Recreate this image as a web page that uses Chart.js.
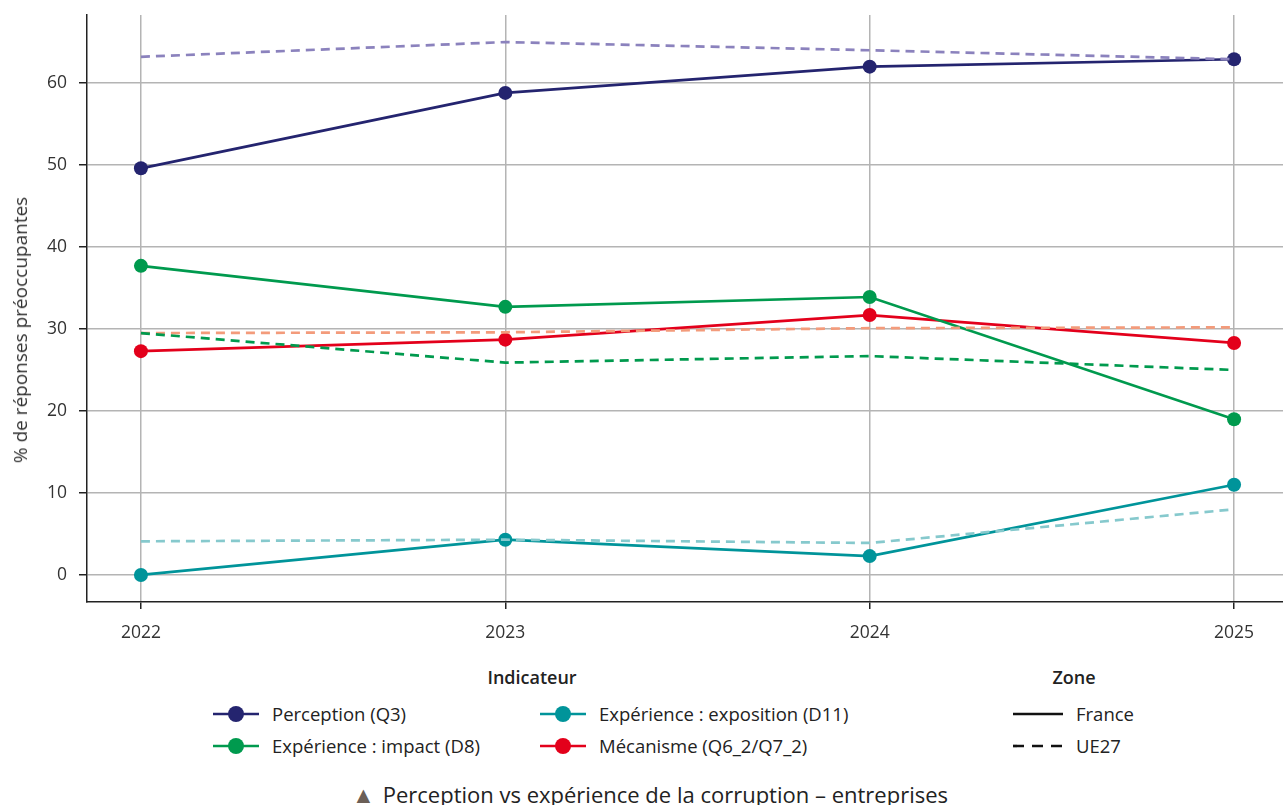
<!DOCTYPE html>
<html lang="fr">
<head>
<meta charset="utf-8">
<script src="https://cdn.jsdelivr.net/npm/chart.js@4"></script>
<style>
  html, body { margin: 0; background: #fff; overflow: hidden; font-family: "Open Sans", sans-serif; color: #222; }
  #wrap { position: relative; width: 1283px; height: 805px; overflow: hidden; }
  #chartBox { position: absolute; left: 0; top: 0; width: 1291px; height: 650px; }
  #yTitle { position: absolute; left: 20px; top: 330px; transform: translate(-50%, -50%) rotate(-90deg); font-size: 19px; color: #333; white-space: nowrap; line-height: 24px; }
  .lg { position: absolute; font-size: 18.5px; color: #222; white-space: nowrap; display: flex; align-items: center; line-height: 24px; }
  .lg svg { margin-right: 13px; }
  .lgTitle { position: absolute; font-size: 18px; font-weight: 600; transform: translateX(-50%); line-height: 22px; }
  #caption { position: absolute; left: 0; width: 1300px; top: 780px; text-align: center; font-size: 22px; color: #222; line-height: 28px; }
  #caption span { color: #6b5f57; font-size: 23px; margin-right: 8px; }
</style>
</head>
<body>
<div id="wrap">
  <div id="chartBox"><canvas id="lineChart"></canvas></div>
  <div id="yTitle">% de réponses préoccupantes</div>
  <div id="legend"></div>
  <div id="caption"><span>▲</span>Perception vs expérience de la corruption – entreprises</div>
</div>
<script>
// années et valeurs
const years = [2022, 2023, 2024, 2025];
const yTicks = [0, 10, 20, 30, 40, 50, 60];

const indicators = ['Perception (Q3)', 'Expérience : impact (D8)', 'Expérience : exposition (D11)', 'Mécanisme (Q6_2/Q7_2)'];

const franceValues = [
    [49.6, 58.8, 62.0, 62.9],   // Perception
    [37.7, 32.7, 33.9, 19.0],   // Impact
    [0, 4.3, 2.3, 11.0],        // Exposition
    [27.3, 28.7, 31.7, 28.3]    // Mécanisme
];
const ue27Values = [
    [63.2, 65.0, 64.0, 62.9],
    [29.5, 25.9, 26.7, 25.0],
    [4.1, 4.3, 3.9, 8.0],
    [29.5, 29.6, 30.1, 30.2]
];

const solidColors = ['#24246f', '#009a4e', '#00949a', '#e3001b'];
const dashColors = ['#8b82bd', '#009a4e', '#86c9cd', '#f39b7b'];

const datasets = [];
indicators.forEach((name, i) => {
    datasets.push({
        label: name + ' – France',
        data: years.map((yr, j) => ({ x: yr, y: franceValues[i][j] })),
        borderColor: solidColors[i],
        backgroundColor: solidColors[i],
        borderWidth: 2.7,
        pointRadius: 7,
        pointHoverRadius: 7,
        pointBorderWidth: 0,
        order: 1
    });
    datasets.push({
        label: name + ' – UE27',
        data: years.map((yr, j) => ({ x: yr, y: ue27Values[i][j] })),
        borderColor: dashColors[i],
        borderWidth: 2.7,
        borderDash: [9, 6],
        pointRadius: 0,
        order: 0
    });
});

const ctx = document.getElementById('lineChart').getContext('2d');
const lineChart = new Chart(ctx, {
    type: 'line',
    data: { datasets: datasets },
    options: {
        responsive: true,
        maintainAspectRatio: false,
        animation: false,
        layout: { padding: { top: 15, right: 0, left: 0, bottom: 0 } },
        plugins: { legend: { display: false }, tooltip: { enabled: false } },
        scales: {
            x: {
                type: 'linear',
                min: 2021.852,
                max: 2025.137,
                afterBuildTicks: s => { s.ticks = years.map(v => ({ value: v })); },
                afterFit: s => { s.height = 48; s.paddingLeft = 0; s.paddingRight = 0; },
                ticks: { color: '#333', font: { family: 'Open Sans', size: 17.5 }, padding: 14, callback: v => String(v) },
                grid: { color: '#b4b4b4', lineWidth: 1.5, tickColor: '#222', tickLength: 7 },
                border: { color: '#222', width: 1.5 }
            },
            y: {
                min: -3.3,
                max: 68.3,
                afterBuildTicks: s => { s.ticks = yTicks.map(v => ({ value: v })); },
                afterFit: s => { s.width = 87; s.paddingTop = 0; s.paddingBottom = 0; },
                ticks: { color: '#333', font: { family: 'Open Sans', size: 17.5 }, padding: 12 },
                grid: { color: '#b4b4b4', lineWidth: 1.5, tickColor: '#222', tickLength: 8 },
                border: { color: '#222', width: 1.5 }
            }
        }
    }
});

// légende HTML : indicateurs + zone
const legend = document.getElementById('legend');
function addTitle(text, x) {
    const d = document.createElement('div');
    d.className = 'lgTitle';
    d.style.left = x + 'px';
    d.style.top = '666px';
    d.textContent = text;
    legend.appendChild(d);
}
function addItem(svg, text, x, y) {
    const d = document.createElement('div');
    d.className = 'lg';
    d.style.left = x + 'px';
    d.style.top = (y - 12) + 'px';
    d.innerHTML = svg + '<span>' + text + '</span>';
    legend.appendChild(d);
}
addTitle('Indicateur', 532);
addTitle('Zone', 1074);

const legendPos = [[213, 714], [213, 746], [540, 714], [540, 746]];
indicators.forEach((name, i) => {
    const c = solidColors[i];
    const svg = '<svg width="46" height="24"><line x1="0" y1="12" x2="46" y2="12" stroke="' + c +
        '" stroke-width="2.7"/><circle cx="23" cy="12" r="8" fill="' + c + '"/></svg>';
    addItem(svg, name, legendPos[i][0], legendPos[i][1]);
});
const zones = ['France', 'UE27'];
zones.forEach((z, i) => {
    const dash = i === 0 ? '' : ' stroke-dasharray="11 8"';
    const svg = '<svg width="50" height="24"><line x1="0" y1="12" x2="50" y2="12" stroke="#111" stroke-width="2.7"' + dash + '/></svg>';
    addItem(svg, z, 1013, 714 + i * 32);
});
</script>
</body>
</html>
